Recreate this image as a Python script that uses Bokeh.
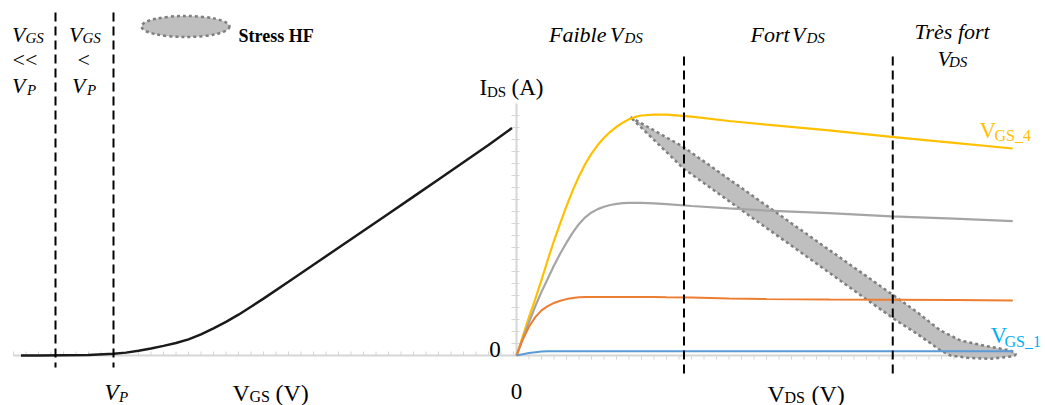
import numpy as np
from bokeh.plotting import figure
from bokeh.models import Range1d, Label
from bokeh.embed import file_html
from bokeh.resources import INLINE

# ---------------- data ----------------
# Transfer characteristic I_D(V_GS)
vgs = [-5.85, -5.5, -5.0, -4.5, -4.0, -3.75, -3.5, -3.25, -3.0, -2.75, -2.5, -2.25, -2.0,
       -1.75, -1.5, -1.25, -1.0, -0.5, 0.0, 0.5, 1.0, 1.5, 2.0, 2.5, 3.0, 3.5, 3.97]
id_transfer = [0.0, 0.0, 0.001, 0.002, 0.007, 0.012, 0.02, 0.029, 0.04, 0.052, 0.067, 0.088,
               0.113, 0.14, 0.17, 0.203, 0.237, 0.307, 0.378, 0.449, 0.52, 0.591, 0.662,
               0.733, 0.805, 0.877, 0.948]

# Output characteristics I_DS(V_DS)
vds = [0, 0.5, 1, 1.5, 2, 2.5, 3, 3.5, 4, 4.5, 5, 5.5, 6, 6.5, 7, 7.5, 8, 8.5, 9, 9.5, 10,
       11, 12, 14, 17, 20, 25, 30, 35, 39.7]
ids_vgs4 = [0.0, 0.08, 0.16, 0.235, 0.315, 0.398, 0.478, 0.552, 0.622, 0.688, 0.747, 0.798,
            0.841, 0.877, 0.907, 0.932, 0.953, 0.970, 0.984, 0.994, 1.0,
            1.004, 1.004, 0.995, 0.977, 0.962, 0.938, 0.911, 0.886, 0.8625]
ids_vgs3 = [0.0, 0.07, 0.138, 0.205, 0.265, 0.32, 0.375, 0.425, 0.47, 0.512, 0.548, 0.576,
            0.596, 0.61, 0.62, 0.627, 0.632, 0.635, 0.636, 0.636, 0.636,
            0.634, 0.631, 0.623, 0.613, 0.604, 0.593, 0.58, 0.57, 0.56]
ids_vgs2 = [0.0, 0.066, 0.12, 0.16, 0.188, 0.206, 0.219, 0.228, 0.235, 0.24, 0.243, 0.244,
            0.244, 0.244, 0.244, 0.244, 0.244, 0.244, 0.244, 0.244, 0.244,
            0.244, 0.243, 0.242, 0.238, 0.235, 0.233, 0.232, 0.231, 0.229]
ids_vgs1 = [0.0, 0.005, 0.01, 0.014, 0.017, 0.018, 0.018, 0.018, 0.018, 0.018, 0.018, 0.018,
            0.018, 0.018, 0.018, 0.018, 0.018, 0.018, 0.018, 0.018, 0.018,
            0.018, 0.018, 0.018, 0.018, 0.018, 0.018, 0.018, 0.0178, 0.0175]

# "Stress HF" load-line band (upper and lower edges)
stress_vds_upper = [9.12, 13.38, 30.18, 32.06, 33.92, 35.52, 37.36, 39.52, 39.78, 39.95]
stress_ids_upper = [0.993, 0.868, 0.25, 0.18, 0.104, 0.0625, 0.0417, 0.0208, 0.014, 0.006]
stress_vds_lower = [9.12, 13.38, 30.18, 32.06, 33.92, 34.72, 36.06, 37.92, 39.52, 39.85]
stress_ids_lower = [0.993, 0.778, 0.153, 0.090, 0.021, 0.0, -0.0096, -0.014, -0.004, 0.0]

# Region separators
vgs_regions = [-5.16, -4.0]      # V_GS << V_P | V_GS < V_P (V_P = -4)
vds_regions = [13.4, 30.1]       # Faible | Fort | Très fort V_DS

# ---------------- layout ----------------
W, H = 1045, 405
VP, VP_PX, PX_PER_VGS = -4.0, 113, 50.0
VDS0_PX, PX_PER_VDS = 516, 12.5
I0_PX, PX_PER_A = 355, 240.0

def gx(px):
    return VP + (px - VP_PX) / PX_PER_VGS

def dx(px):
    return (px - VDS0_PX) / PX_PER_VDS

def gy(py):
    return (I0_PX - py) / PX_PER_A

p = figure(width=W, height=H, output_backend="svg", toolbar_location=None,
           x_range=Range1d(gx(0), gx(W)), y_range=Range1d(gy(H), gy(0)),
           x_axis_type=None, y_axis_type=None, min_border=0,
           outline_line_color=None, background_fill_color="white")
p.extra_x_ranges = {"vds": Range1d(dx(0), dx(W))}
p.grid.visible = False

AX = "#D6D6D6"
# left axis (V_GS)
p.segment(x0=[gx(13)], y0=[0], x1=[gx(VDS0_PX)], y1=[0], line_color=AX, line_width=2)
tl = np.arange(-6.0, 4.01, 0.25)
p.segment(x0=tl, y0=0, x1=tl, y1=gy(I0_PX - 4), line_color=AX, line_width=1)
# right axes (V_DS, I_DS)
p.segment(x0=[0], y0=[0], x1=[dx(1016)], y1=[0], line_color=AX, line_width=2, x_range_name="vds")
tr = np.arange(1, 40, 1.0)
p.segment(x0=tr, y0=0, x1=tr, y1=gy(I0_PX + 4), line_color=AX, line_width=1, x_range_name="vds")
p.segment(x0=[0], y0=[0], x1=[0], y1=[gy(103)], line_color=AX, line_width=2, x_range_name="vds")
ty = np.arange(0.05, 1.05, 0.05)
p.segment(x0=dx(VDS0_PX - 5), y0=ty, x1=dx(VDS0_PX + 3), y1=ty, line_color=AX, line_width=1,
          x_range_name="vds")

# stress band
band_x = stress_vds_upper + stress_vds_lower[::-1]
band_y = stress_ids_upper + stress_ids_lower[::-1]
p.patch(band_x, band_y, x_range_name="vds", fill_color="#BFBFBF", line_color="#7F7F7F",
        line_width=2.5, line_dash="3 3")

# curves
p.line(vgs, id_transfer, line_color="#1A1A1A", line_width=2.5)
p.line(vds, ids_vgs4, line_color="#FFC000", line_width=2.2, x_range_name="vds")
p.line(vds, ids_vgs3, line_color="#A5A5A5", line_width=2.2, x_range_name="vds")
p.line(vds, ids_vgs2, line_color="#ED7D31", line_width=2.0, x_range_name="vds")
p.line(vds, ids_vgs1, line_color="#5B9BD5", line_width=2.0, x_range_name="vds")

# dashed separators
p.segment(x0=vgs_regions, y0=gy(12), x1=vgs_regions, y1=gy(367), line_color="black",
          line_width=2, line_dash="9 5")
p.segment(x0=vds_regions, y0=gy(56), x1=vds_regions, y1=gy(377), line_color="black",
          line_width=2, line_dash="9 5", x_range_name="vds")

# legend marker
p.ellipse(x=[gx(185)], y=[gy(26)], width=88, height=21, width_units="screen",
          height_units="screen", fill_color="#BFBFBF", line_color="#7F7F7F",
          line_width=2.5, line_dash="3 3")

FONT = "Liberation Serif"

def txt(x_px, y_px, s, size, style="normal", color="black", align="left"):
    p.add_layout(Label(x=gx(x_px), y=gy(y_px), text=s, text_font=FONT,
                       text_font_size=f"{size}px", text_font_style=style,
                       text_color=color, text_align=align, text_baseline="alphabetic"))

# top-left region labels
txt(11.5, 33.5, "V", 22, "italic"); txt(25, 37, "GS", 15, "italic")
txt(12, 59, "<<", 22)
txt(11.5, 85, "V", 22, "italic"); txt(26.5, 89, "P", 15, "italic")
txt(68.5, 33.5, "V", 22, "italic"); txt(82, 37, "GS", 15, "italic")
txt(77, 59, "<", 22)
txt(71.5, 85, "V", 22, "italic"); txt(86.5, 89, "P", 15, "italic")

txt(238, 35, "Stress HF", 18, "bold")

# top-right region labels
txt(548.5, 34, "Faible", 22, "italic"); txt(609.5, 34, "V", 22, "italic"); txt(624, 37.5, "DS", 15, "italic")
txt(750, 34, "Fort", 22, "italic"); txt(791.5, 34, "V", 22, "italic"); txt(806, 37.5, "DS", 15, "italic")
txt(914, 30.5, "Très fort", 22, "italic")
txt(937, 57.5, "V", 22, "italic"); txt(948.5, 61, "DS", 15, "italic")

# axis titles
txt(479, 87, "I", 23); txt(486.5, 91, "DS", 15); txt(511, 87, "(A)", 23)
txt(494.5, 348.5, "0", 23, align="center")
txt(516, 391, "0", 23, align="center")
txt(104, 392, "V", 23, "italic"); txt(118.5, 396, "P", 15, "italic")
txt(232, 392, "V", 24); txt(249, 396, "GS", 16); txt(275, 392, "(V)", 24)
txt(767, 393, "V", 24); txt(784, 397, "DS", 16); txt(811, 393, "(V)", 24)

# curve labels
txt(979, 130, "V", 23, color="#FFC000"); txt(994, 135, "GS_4", 16, color="#FFC000")
txt(990, 335, "V", 23, color="#00B0F0"); txt(1004, 341, "GS_1", 16, color="#00B0F0")

open("out.html", "w").write(file_html(p, INLINE))
